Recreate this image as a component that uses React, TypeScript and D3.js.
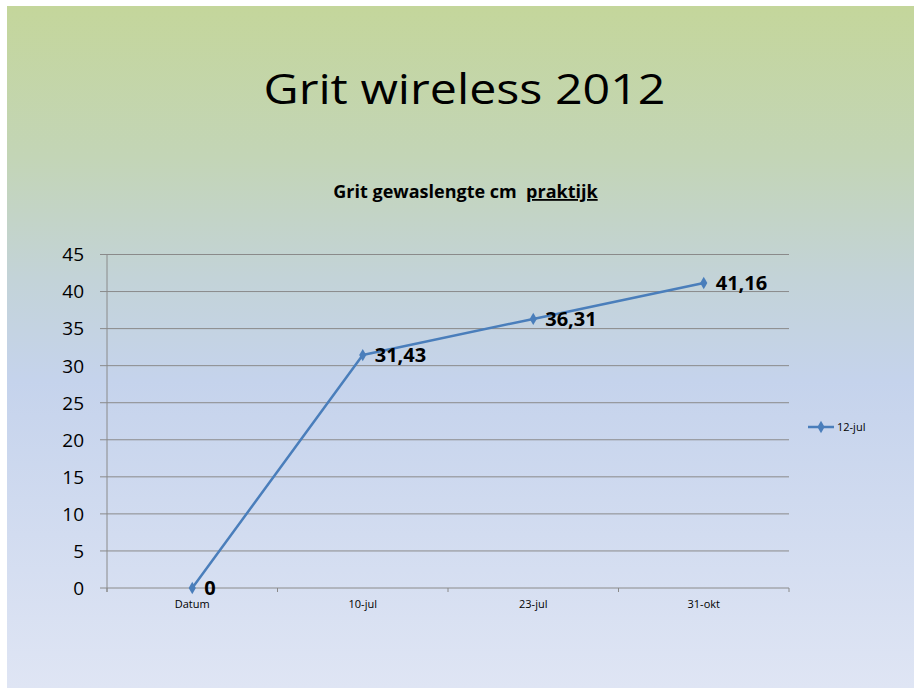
import React from "react";
import * as d3 from "d3";

const categories = ["Datum", "10-jul", "23-jul", "31-okt"];
const values = [0, 31.43, 36.31, 41.16];
const valueLabels = ["0", "31,43", "36,31", "41,16"];
const yTicks = [0, 5, 10, 15, 20, 25, 30, 35, 40, 45];
const seriesName = "12-jul";
const slideTitle = "Grit wireless 2012";
const chartTitleMain = "Grit gewaslengte cm\u00a0\u00a0";
const chartTitleUnderlined = "praktijk";

const W = 914;
const H = 688;
const FONT = "'Open Sans', 'Noto Sans', sans-serif";
const BLUE = "#4a7ebb";
const GRID = "#8a8a8a";

export default function App() {
  const x = d3.scaleBand<string>().domain(categories).range([107, 789]);
  const y = d3.scaleLinear().domain([0, 45]).range([588, 254.5]);
  const cx = (c: string) => (x(c) as number) + x.bandwidth() / 2;
  const pts: [number, number][] = categories.map((c, i) => [cx(c), y(values[i])]);
  const line = d3.line<[number, number]>()(pts) as string;
  const diamond = d3.symbol().type(d3.symbolDiamond).size(44)() as string;
  const boundaries = [...categories.map((c) => x(c) as number), 789];

  return (
    <div style={{ position: "absolute", left: 0, top: 0 }}>
      <svg width={W} height={H} style={{ display: "block" }} fontFamily={FONT}>
        <defs>
          <linearGradient id="bg" x1="0" y1="0" x2="0" y2="1">
            <stop offset="0%" stopColor="#c4d69b" />
            <stop offset="22%" stopColor="#c3d5b6" />
            <stop offset="40%" stopColor="#c3d3d8" />
            <stop offset="55%" stopColor="#c5d3ec" />
            <stop offset="100%" stopColor="#dfe5f4" />
          </linearGradient>
        </defs>
        <rect x={0} y={0} width={W} height={H} fill="#ffffff" />
        <rect x={7} y={6} width={W - 7} height={H - 6} fill="url(#bg)" />

        <text x={464.5} y={104} textAnchor="middle" fontSize={42} fill="#000"
          textLength={402} lengthAdjust="spacingAndGlyphs">{slideTitle}</text>

        <text x={465.5} y={198} textAnchor="middle" fontSize={18} fontWeight="bold" fill="#000">
          <tspan>{chartTitleMain}</tspan>
          <tspan textDecoration="underline">{chartTitleUnderlined}</tspan>
        </text>

        {yTicks.map((t) => (
          <g key={t}>
            <line x1={100} x2={789} y1={y(t)} y2={y(t)} stroke={GRID} strokeWidth={1} />
            <text x={84} y={y(t)} dy="0.36em" textAnchor="end" fontSize={19} fill="#000">{t}</text>
          </g>
        ))}
        <line x1={107} x2={107} y1={y(45)} y2={592} stroke={GRID} strokeWidth={1} />
        {boundaries.map((b, i) => (
          <line key={i} x1={b} x2={b} y1={588} y2={592} stroke={GRID} strokeWidth={1} />
        ))}
        {categories.map((c) => (
          <text key={c} x={cx(c)} y={608} textAnchor="middle" fontSize={11} fill="#000">{c}</text>
        ))}

        <path d={line} fill="none" stroke={BLUE} strokeWidth={2.5} strokeLinejoin="round" />
        {pts.map((p, i) => (
          <path key={i} d={diamond} transform={`translate(${p[0]},${p[1]})`} fill={BLUE} />
        ))}
        {pts.map((p, i) => (
          <text key={i} x={p[0] + 12} y={p[1]} dy="0.36em" fontSize={20} fontWeight="bold" fill="#000">{valueLabels[i]}</text>
        ))}

        <line x1={808} x2={834} y1={427} y2={427} stroke={BLUE} strokeWidth={2.5} />
        <path d={diamond} transform="translate(821,427)" fill={BLUE} />
        <text x={837} y={427} dy="0.36em" fontSize={11} fill="#000">{seriesName}</text>
      </svg>
    </div>
  );
}
